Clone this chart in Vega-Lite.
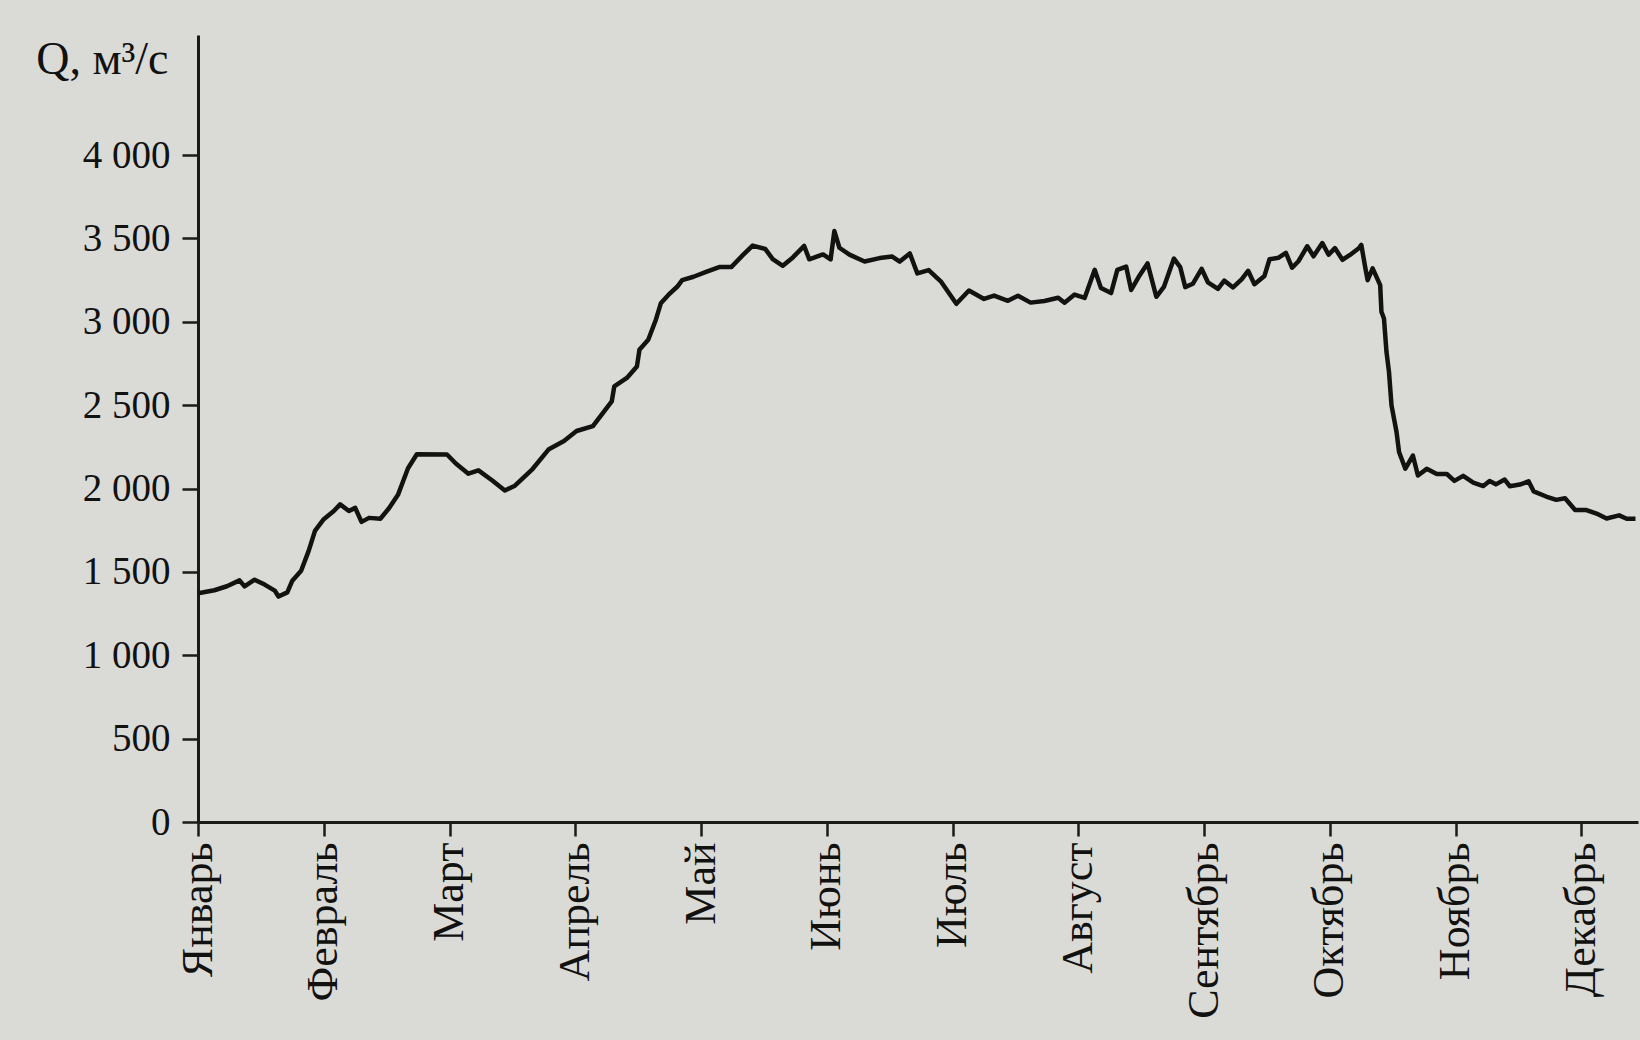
{
  "$schema": "https://vega.github.io/schema/vega-lite/v6.json",
  "autosize": {"type": "none"},
  "width": 1440,
  "height": 787,
  "padding": {"left": 198, "top": 35, "right": 2, "bottom": 218},
  "background": "#dadad7",
  "config": {
    "view": {"stroke": null},
    "font": "Liberation Serif"
  },
  "data": {
    "values": [
      {"t": 0, "q": 1371}, {"t": 0.13, "q": 1390}, {"t": 0.23, "q": 1414}, {"t": 0.33, "q": 1449},
      {"t": 0.37, "q": 1413}, {"t": 0.45, "q": 1453}, {"t": 0.53, "q": 1424}, {"t": 0.61, "q": 1388},
      {"t": 0.64, "q": 1352}, {"t": 0.71, "q": 1377}, {"t": 0.75, "q": 1447}, {"t": 0.82, "q": 1507},
      {"t": 0.88, "q": 1626}, {"t": 0.93, "q": 1746}, {"t": 1.0, "q": 1816}, {"t": 1.08, "q": 1865},
      {"t": 1.13, "q": 1905}, {"t": 1.2, "q": 1865}, {"t": 1.25, "q": 1884}, {"t": 1.3, "q": 1800},
      {"t": 1.36, "q": 1824}, {"t": 1.45, "q": 1819}, {"t": 1.52, "q": 1883}, {"t": 1.59, "q": 1962},
      {"t": 1.63, "q": 2042}, {"t": 1.67, "q": 2122}, {"t": 1.74, "q": 2206}, {"t": 1.98, "q": 2204},
      {"t": 2.05, "q": 2150}, {"t": 2.15, "q": 2089}, {"t": 2.23, "q": 2109}, {"t": 2.34, "q": 2048},
      {"t": 2.44, "q": 1988}, {"t": 2.52, "q": 2017}, {"t": 2.66, "q": 2117}, {"t": 2.79, "q": 2236},
      {"t": 2.91, "q": 2285}, {"t": 3.01, "q": 2345}, {"t": 3.14, "q": 2374}, {"t": 3.22, "q": 2454},
      {"t": 3.29, "q": 2523}, {"t": 3.31, "q": 2613}, {"t": 3.41, "q": 2663}, {"t": 3.49, "q": 2732},
      {"t": 3.51, "q": 2832}, {"t": 3.58, "q": 2892}, {"t": 3.64, "q": 3011}, {"t": 3.68, "q": 3111},
      {"t": 3.74, "q": 3161}, {"t": 3.81, "q": 3210}, {"t": 3.85, "q": 3250}, {"t": 3.94, "q": 3270},
      {"t": 4.04, "q": 3299}, {"t": 4.15, "q": 3329}, {"t": 4.24, "q": 3328}, {"t": 4.33, "q": 3398},
      {"t": 4.41, "q": 3457}, {"t": 4.51, "q": 3437}, {"t": 4.57, "q": 3376}, {"t": 4.65, "q": 3336},
      {"t": 4.73, "q": 3386}, {"t": 4.82, "q": 3455}, {"t": 4.86, "q": 3375}, {"t": 4.97, "q": 3404},
      {"t": 5.03, "q": 3374}, {"t": 5.06, "q": 3544}, {"t": 5.1, "q": 3444}, {"t": 5.18, "q": 3403},
      {"t": 5.3, "q": 3362}, {"t": 5.42, "q": 3382}, {"t": 5.52, "q": 3391}, {"t": 5.58, "q": 3361},
      {"t": 5.66, "q": 3410}, {"t": 5.72, "q": 3290}, {"t": 5.81, "q": 3310}, {"t": 5.91, "q": 3239},
      {"t": 6.03, "q": 3108}, {"t": 6.13, "q": 3188}, {"t": 6.25, "q": 3137}, {"t": 6.33, "q": 3157},
      {"t": 6.44, "q": 3126}, {"t": 6.52, "q": 3156}, {"t": 6.62, "q": 3115}, {"t": 6.73, "q": 3125},
      {"t": 6.84, "q": 3144}, {"t": 6.89, "q": 3114}, {"t": 6.97, "q": 3163}, {"t": 7.05, "q": 3143},
      {"t": 7.13, "q": 3312}, {"t": 7.18, "q": 3202}, {"t": 7.26, "q": 3172}, {"t": 7.31, "q": 3311},
      {"t": 7.38, "q": 3331}, {"t": 7.42, "q": 3191}, {"t": 7.48, "q": 3270}, {"t": 7.55, "q": 3350},
      {"t": 7.62, "q": 3150}, {"t": 7.68, "q": 3209}, {"t": 7.76, "q": 3379}, {"t": 7.81, "q": 3328},
      {"t": 7.85, "q": 3208}, {"t": 7.91, "q": 3228}, {"t": 7.98, "q": 3318}, {"t": 8.03, "q": 3237},
      {"t": 8.11, "q": 3197}, {"t": 8.16, "q": 3247}, {"t": 8.23, "q": 3206}, {"t": 8.3, "q": 3256},
      {"t": 8.35, "q": 3306}, {"t": 8.4, "q": 3225}, {"t": 8.48, "q": 3275}, {"t": 8.52, "q": 3375},
      {"t": 8.59, "q": 3384}, {"t": 8.65, "q": 3414}, {"t": 8.7, "q": 3324}, {"t": 8.75, "q": 3363},
      {"t": 8.82, "q": 3453}, {"t": 8.87, "q": 3393}, {"t": 8.94, "q": 3472}, {"t": 8.99, "q": 3402},
      {"t": 9.04, "q": 3442}, {"t": 9.1, "q": 3372}, {"t": 9.16, "q": 3401}, {"t": 9.23, "q": 3441},
      {"t": 9.25, "q": 3461}, {"t": 9.28, "q": 3331}, {"t": 9.3, "q": 3250}, {"t": 9.34, "q": 3320},
      {"t": 9.4, "q": 3220}, {"t": 9.41, "q": 3060}, {"t": 9.43, "q": 3020}, {"t": 9.45, "q": 2820},
      {"t": 9.47, "q": 2699}, {"t": 9.49, "q": 2499}, {"t": 9.53, "q": 2339}, {"t": 9.55, "q": 2219},
      {"t": 9.6, "q": 2119}, {"t": 9.66, "q": 2198}, {"t": 9.7, "q": 2078}, {"t": 9.77, "q": 2118},
      {"t": 9.85, "q": 2087}, {"t": 9.93, "q": 2087}, {"t": 9.99, "q": 2046}, {"t": 10.06, "q": 2076},
      {"t": 10.14, "q": 2036}, {"t": 10.22, "q": 2015}, {"t": 10.27, "q": 2045}, {"t": 10.32, "q": 2025},
      {"t": 10.39, "q": 2054}, {"t": 10.43, "q": 2014}, {"t": 10.51, "q": 2024}, {"t": 10.58, "q": 2043},
      {"t": 10.62, "q": 1983}, {"t": 10.72, "q": 1952}, {"t": 10.8, "q": 1932}, {"t": 10.87, "q": 1942},
      {"t": 10.95, "q": 1871}, {"t": 11.04, "q": 1871}, {"t": 11.12, "q": 1850}, {"t": 11.2, "q": 1820},
      {"t": 11.3, "q": 1839}, {"t": 11.36, "q": 1819}, {"t": 11.43, "q": 1819}
    ]
  },
  "mark": {"type": "line", "color": "#121210", "strokeWidth": 4.5, "strokeJoin": "round", "clip": true},
  "encoding": {
    "x": {
      "field": "t",
      "type": "quantitative",
      "scale": {"domain": [0, 11.45], "nice": false, "zero": false},
      "axis": {
        "values": [0, 1, 2, 3, 4, 5, 6, 7, 8, 9, 10, 11],
        "labelExpr": "['Январь','Февраль','Март','Апрель','Май','Июнь','Июль','Август','Сентябрь','Октябрь','Ноябрь','Декабрь'][datum.value]",
        "labelAngle": -90,
        "labelAlign": "right",
        "labelBaseline": "middle",
        "labelFont": "Liberation Serif",
        "labelFontSize": 44,
        "labelColor": "#111110",
        "labelPadding": 6,
        "labelOverlap": false,
        "labelFlush": false,
        "tickSize": 14,
        "tickWidth": 2.5,
        "tickColor": "#1a1a18",
        "domainColor": "#1a1a18",
        "domainWidth": 3,
        "grid": false,
        "title": null
      }
    },
    "y": {
      "field": "q",
      "type": "quantitative",
      "scale": {"domain": [0, 4720], "nice": false},
      "axis": {
        "values": [0, 500, 1000, 1500, 2000, 2500, 3000, 3500, 4000],
        "labelExpr": "replace(format(datum.value, ','), ',', ' ')",
        "labelFont": "Liberation Serif",
        "labelFontSize": 39,
        "labelColor": "#111110",
        "labelPadding": 12,
        "labelFlush": false,
        "tickSize": 16,
        "tickWidth": 2.5,
        "tickColor": "#1a1a18",
        "domainColor": "#1a1a18",
        "domainWidth": 3,
        "grid": false,
        "title": "Q, м³/с",
        "titleFont": "Liberation Serif",
        "titleFontSize": 46,
        "titleFontWeight": "normal",
        "titleColor": "#111110",
        "titleAngle": 0,
        "titleAlign": "right",
        "titleBaseline": "alphabetic",
        "titleX": -30,
        "titleY": 38
      }
    }
  }
}
